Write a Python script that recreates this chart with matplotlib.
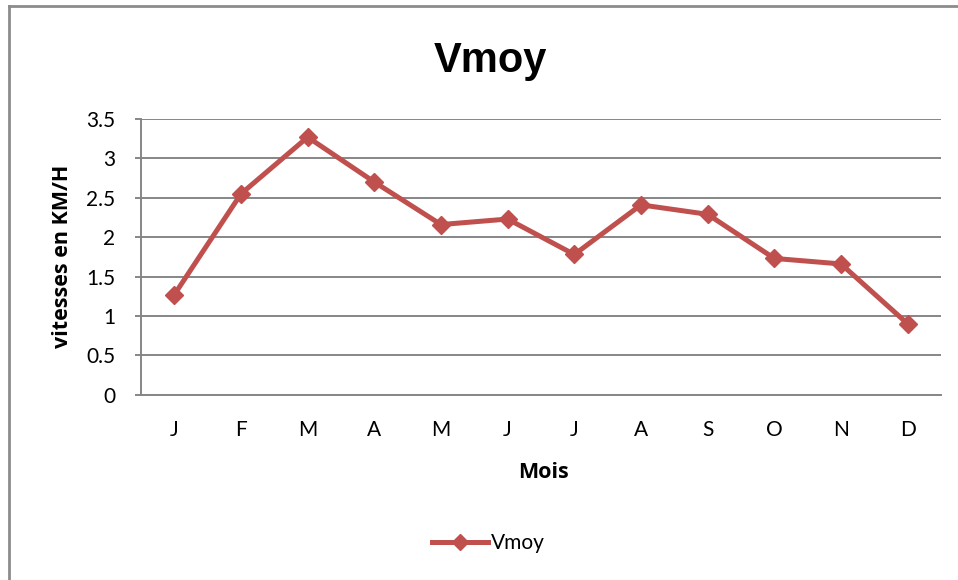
import matplotlib
matplotlib.use("Agg")
import matplotlib.pyplot as plt
from matplotlib.lines import Line2D

months = ["J", "F", "M", "A", "M", "J", "J", "A", "S", "O", "N", "D"]
vmoy = [1.27, 2.55, 3.27, 2.70, 2.16, 2.23, 1.78, 2.41, 2.29, 1.73, 1.66, 0.90]
yticks = [0, 0.5, 1, 1.5, 2, 2.5, 3, 3.5]
ytick_labels = ["0", "0.5", "1", "1.5", "2", "2.5", "3", "3.5"]

red = "#C0504D"
gray = "#868686"
W, H = 958, 580

fig = plt.figure(figsize=(W / 100, H / 100), dpi=100)
fig.patch.set_facecolor("white")
ax = fig.add_axes([141 / W, 1 - 394.7 / H, 800 / W, 275.7 / H])

x = list(range(len(months)))
ax.plot(x, vmoy, color=red, lw=3.6, marker="D", ms=9.5, mec=red, mfc=red,
        label="Vmoy", zorder=3)

ax.set_xlim(-0.5, len(months) - 0.5)
ax.set_ylim(0, 3.5)
ax.set_yticks(yticks)
ax.set_yticklabels(ytick_labels)
ax.set_xticks(x)
ax.set_xticklabels(months)
ax.yaxis.grid(True, color=gray, lw=1.4)
ax.set_axisbelow(True)
for s in ["top", "right"]:
    ax.spines[s].set_visible(False)
for s in ["left", "bottom"]:
    ax.spines[s].set_color(gray)
    ax.spines[s].set_linewidth(1.4)
ax.tick_params(axis="y", length=4, color=gray, width=1.4, pad=14.4,
               labelsize=15, labelcolor="black")
ax.tick_params(axis="x", length=0, pad=18.5, labelsize=15, labelcolor="black")
for lab in ax.get_xticklabels() + ax.get_yticklabels():
    lab.set_fontfamily("Lato")

ax.set_ylabel("vitesses en KM/H", fontsize=15.5, fontweight="bold", family="Open Sans")
ax.yaxis.set_label_coords((73 - 141) / 800, 0.503)
fig.text(543 / W, 1 - 478 / H, "Mois", ha="center", va="baseline", fontsize=15.5,
         fontweight="bold", family="Open Sans")

fig.text(490 / W, 1 - 71.7 / H, "Vmoy", ha="center", va="baseline", fontsize=30,
         fontweight="bold", family="Liberation Sans")

leg = fig.legend(handles=[Line2D([0], [0], color=red, lw=3.6, marker="D", ms=8)],
                 labels=["Vmoy"], loc="center left", bbox_to_anchor=(432 / W, 1 - 543 / H),
                 frameon=False, prop={"family": "Lato", "size": 15},
                 handlelength=2.7, handletextpad=0.15, borderpad=0, borderaxespad=0)

fig.add_artist(Line2D([9 / W, 9 / W], [0, 1 - 5.5 / H], color="#8C8C8C", lw=2, transform=fig.transFigure))
fig.add_artist(Line2D([9 / W, 1], [1 - 5.5 / H, 1 - 5.5 / H], color="#8C8C8C", lw=2, transform=fig.transFigure))

fig.savefig("out.png", dpi=100)
